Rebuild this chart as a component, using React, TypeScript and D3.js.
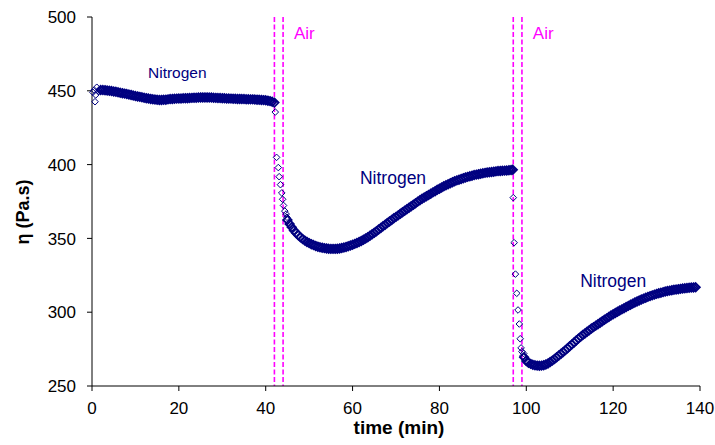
import React from "react";
import * as d3 from "d3";

// ---- data (time in min, viscosity in Pa.s) ----
const startScatter: [number, number][] = [
  [0.2, 449.0], [0.5, 450.5], [0.7, 442.6], [0.85, 447.2], [1.1, 452.4], [1.5, 449.4], [1.8, 451.0],
];

const nitrogen1: [number, number][] = [
  [2.0, 450.5], [2.5, 450.5], [3.0, 450.4], [3.5, 450.2], [4.0, 450.0], [4.5, 449.8], [5.0, 449.5], [5.5, 449.3],
  [6.0, 449.0], [6.5, 448.7], [7.0, 448.4], [7.5, 448.1], [8.0, 447.8], [8.5, 447.5], [9.0, 447.2], [9.5, 446.8],
  [10.0, 446.5], [10.5, 446.2], [11.0, 445.9], [11.5, 445.6], [12.0, 445.3], [12.5, 445.0], [13.0, 444.8], [13.5, 444.5],
  [14.0, 444.3], [14.5, 444.1], [15.0, 443.9], [15.5, 443.8], [16.0, 443.8], [16.5, 443.9], [17.0, 444.0], [17.5, 444.2],
  [18.0, 444.4], [18.5, 444.5], [19.0, 444.6], [19.5, 444.7], [20.0, 444.8], [20.5, 444.8], [21.0, 444.9], [21.5, 445.0],
  [22.0, 445.0], [22.5, 445.1], [23.0, 445.2], [23.5, 445.3], [24.0, 445.3], [24.5, 445.4], [25.0, 445.5], [25.5, 445.5],
  [26.0, 445.5], [26.5, 445.5], [27.0, 445.4], [27.5, 445.4], [28.0, 445.3], [28.5, 445.2], [29.0, 445.1], [29.5, 445.1],
  [30.0, 445.0], [30.5, 444.9], [31.0, 444.8], [31.5, 444.8], [32.0, 444.7], [32.5, 444.6], [33.0, 444.6], [33.5, 444.5],
  [34.0, 444.5], [34.5, 444.4], [35.0, 444.4], [35.5, 444.3], [36.0, 444.3], [36.5, 444.2], [37.0, 444.2], [37.5, 444.1],
  [38.0, 444.0], [38.5, 443.9], [39.0, 443.8], [39.5, 443.7], [40.0, 443.6], [40.5, 443.3], [41.0, 443.0], [41.5, 442.6],
  [42.0, 442.0],
];

const airDrop1: [number, number][] = [
  [42.2, 435.6], [42.5, 404.9], [42.9, 398.0], [43.1, 391.8], [43.4, 386.4], [43.7, 380.8], [43.9, 376.5],
  [44.1, 372.3], [44.4, 368.5], [44.7, 366.5], [44.9, 364.3],
];

const nitrogen2: [number, number][] = [
  [45.0, 362.5], [45.5, 359.8], [46.0, 357.5], [46.5, 355.4], [47.0, 353.7], [47.5, 352.2], [48.0, 350.8], [48.5, 349.6],
  [49.0, 348.5], [49.5, 347.6], [50.0, 346.8], [50.5, 346.1], [51.0, 345.5], [51.5, 344.9], [52.0, 344.4], [52.5, 344.0],
  [53.0, 343.7], [53.5, 343.4], [54.0, 343.2], [54.5, 343.0], [55.0, 342.9], [55.5, 342.9], [56.0, 342.9], [56.5, 343.0],
  [57.0, 343.2], [57.5, 343.5], [58.0, 343.8], [58.5, 344.2], [59.0, 344.7], [59.5, 345.2], [60.0, 345.7], [60.5, 346.3],
  [61.0, 346.9], [61.5, 347.6], [62.0, 348.3], [62.5, 349.1], [63.0, 349.9], [63.5, 350.8], [64.0, 351.8], [64.5, 352.8],
  [65.0, 353.8], [65.5, 354.9], [66.0, 356.0], [66.5, 357.1], [67.0, 358.2], [67.5, 359.3], [68.0, 360.4], [68.5, 361.5],
  [69.0, 362.5], [69.5, 363.6], [70.0, 364.6], [70.5, 365.6], [71.0, 366.7], [71.5, 367.7], [72.0, 368.7], [72.5, 369.8],
  [73.0, 370.8], [73.5, 371.8], [74.0, 372.8], [74.5, 373.8], [75.0, 374.9], [75.5, 375.9], [76.0, 376.8], [76.5, 377.7],
  [77.0, 378.6], [77.5, 379.4], [78.0, 380.3], [78.5, 381.2], [79.0, 382.0], [79.5, 382.9], [80.0, 383.7], [80.5, 384.5],
  [81.0, 385.3], [81.5, 386.0], [82.0, 386.7], [82.5, 387.4], [83.0, 388.1], [83.5, 388.7], [84.0, 389.3], [84.5, 389.8],
  [85.0, 390.3], [85.5, 390.8], [86.0, 391.3], [86.5, 391.7], [87.0, 392.1], [87.5, 392.5], [88.0, 392.9], [88.5, 393.2],
  [89.0, 393.5], [89.5, 393.8], [90.0, 394.1], [90.5, 394.4], [91.0, 394.6], [91.5, 394.8], [92.0, 395.0], [92.5, 395.2],
  [93.0, 395.4], [93.5, 395.6], [94.0, 395.7], [94.5, 395.8], [95.0, 395.9], [95.5, 396.0], [96.0, 396.2], [96.5, 396.3],
  [96.9, 396.5],
];

const airDrop2: [number, number][] = [
  [97.0, 377.6], [97.2, 347.1], [97.5, 325.8], [97.8, 312.8], [98.1, 301.5], [98.4, 292.0], [98.6, 282.0],
  [98.8, 275.8], [99.0, 273.3], [99.2, 270.3], [99.4, 272.0],
];

const nitrogen3: [number, number][] = [
  [99.5, 269.5], [100.0, 267.0], [100.5, 265.8], [101.0, 265.0], [101.5, 264.4], [102.0, 264.0], [102.5, 263.8], [103.0, 263.7],
  [103.5, 263.8], [104.0, 264.1], [104.5, 264.6], [105.0, 265.3], [105.5, 266.2], [106.0, 267.2], [106.5, 268.3], [107.0, 269.5],
  [107.5, 270.7], [108.0, 271.9], [108.5, 273.1], [109.0, 274.3], [109.5, 275.6], [110.0, 276.9], [110.5, 278.2], [111.0, 279.5],
  [111.5, 280.8], [112.0, 282.1], [112.5, 283.3], [113.0, 284.5], [113.5, 285.6], [114.0, 286.7], [114.5, 287.8], [115.0, 288.9],
  [115.5, 289.9], [116.0, 290.9], [116.5, 291.9], [117.0, 292.9], [117.5, 293.9], [118.0, 294.9], [118.5, 295.8], [119.0, 296.8],
  [119.5, 297.7], [120.0, 298.6], [120.5, 299.5], [121.0, 300.3], [121.5, 301.1], [122.0, 301.9], [122.5, 302.7], [123.0, 303.5],
  [123.5, 304.3], [124.0, 305.1], [124.5, 305.8], [125.0, 306.6], [125.5, 307.3], [126.0, 307.9], [126.5, 308.6], [127.0, 309.2],
  [127.5, 309.8], [128.0, 310.4], [128.5, 310.9], [129.0, 311.4], [129.5, 311.9], [130.0, 312.4], [130.5, 312.8], [131.0, 313.2],
  [131.5, 313.6], [132.0, 314.0], [132.5, 314.3], [133.0, 314.6], [133.5, 314.9], [134.0, 315.2], [134.5, 315.4], [135.0, 315.6],
  [135.5, 315.8], [136.0, 316.0], [136.5, 316.2], [137.0, 316.4], [137.5, 316.5], [138.0, 316.7], [138.5, 316.8], [139.0, 316.9],
];

const airLines = [42, 44, 97, 99];
const xTicks = [0, 20, 40, 60, 80, 100, 120, 140];
const yTicks = [250, 300, 350, 400, 450, 500];

const annotations = [
  { text: "Nitrogen", t: 12.9, v: 458.8, size: 15.5, color: "#000080" },
  { text: "Nitrogen", t: 61.7, v: 387.1, size: 17.5, color: "#000080" },
  { text: "Nitrogen", t: 112.4, v: 316.9, size: 17.5, color: "#000080" },
  { text: "Air", t: 46.5, v: 485.0, size: 17, color: "#FF00FF" },
  { text: "Air", t: 101.5, v: 485.0, size: 17, color: "#FF00FF" },
];

const W = 715;
const H = 445;
const margin = { left: 92, right: 15, top: 17, bottom: 59 };
const FONT = "Arial, 'Liberation Sans', Helvetica, sans-serif";
const NAVY = "#000080";

export default function App() {
  const x = d3.scaleLinear().domain([0, 140]).range([margin.left, W - margin.right]);
  const y = d3.scaleLinear().domain([250, 500]).range([H - margin.bottom, margin.top]);
  const dense = [...nitrogen1, ...nitrogen2, ...nitrogen3];
  const sparse = [...startScatter, ...airDrop1, ...airDrop2];
  const diamond = (d: [number, number], r: number) => {
    const cx = x(d[0]);
    const cy = y(d[1]);
    return `M${cx},${cy - r}L${cx + r},${cy}L${cx},${cy + r}L${cx - r},${cy}Z`;
  };
  const x0 = x(0), x1 = x(140), y0 = y(250), y1 = y(500);
  return (
    <svg width={W} height={H} style={{ position: "absolute", left: 0, top: 0, background: "#fff" }} fontFamily={FONT}>
      {/* air dashed lines */}
      {airLines.map((t, i) => (
        <line key={"a" + i} x1={x(t)} x2={x(t)} y1={y1} y2={y0} stroke="#FF00FF" strokeWidth={1.6} strokeDasharray="5,2.5" />
      ))}
      {/* axes */}
      <line x1={x0} x2={x0} y1={y1} y2={y0} stroke="#000" strokeWidth={1} />
      <line x1={x0} x2={x1} y1={y0} y2={y0} stroke="#000" strokeWidth={1} />
      {yTicks.map((v) => (
        <g key={"y" + v}>
          <line x1={x0 - 5} x2={x0} y1={y(v)} y2={y(v)} stroke="#000" />
          <text x={x0 - 16} y={y(v)} dy="0.36em" textAnchor="end" fontSize={17} fill="#000">{v}</text>
        </g>
      ))}
      {xTicks.map((t) => (
        <g key={"x" + t}>
          <line x1={x(t)} x2={x(t)} y1={y0} y2={y0 + 5} stroke="#000" />
          <text x={x(t)} y={y0 + 22} dy="0.36em" textAnchor="middle" fontSize={17} fill="#000">{t}</text>
        </g>
      ))}
      <text x={(x0 + x1) / 2 + 3} y={434} textAnchor="middle" fontSize={19} fontWeight="bold" fill="#000">time (min)</text>
      <text transform={`translate(29,212) rotate(-90)`} textAnchor="middle" fontSize={18} fontWeight="bold" fill="#000">η (Pa.s)</text>
      {/* data markers */}
      <g fill="none" stroke={NAVY} strokeWidth={1.8}>
        {dense.map((d, i) => (
          <path key={"d" + i} d={diamond(d, 4.2)} />
        ))}
      </g>
      <g fill="none" stroke={NAVY} strokeWidth={1}>
        {sparse.map((d, i) => (
          <path key={"s" + i} d={diamond(d, 3.3)} />
        ))}
      </g>
      {annotations.map((a, i) => (
        <text key={"n" + i} x={x(a.t)} y={y(a.v)} fontSize={a.size} fill={a.color}>{a.text}</text>
      ))}
    </svg>
  );
}
